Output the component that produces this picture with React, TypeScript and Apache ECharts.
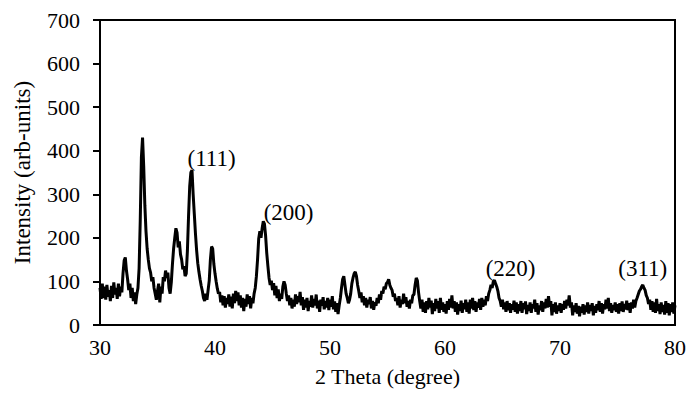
import React, { useEffect, useRef } from "react";
import * as echarts from "echarts";

// 2θ grid: start and step of the measured pattern
const thetaStart = 30;
const thetaStep = 0.1;

// Intensity values (arb-units), one per 0.1°
const int30to35 = [
  85, 60, 95, 62, 88, 58, 92, 65, 80, 55,
  90, 62, 98, 70, 85, 60, 95, 66, 88, 75,
  118, 148, 155, 125, 105, 80, 95, 62, 85, 55,
  75, 48, 70, 85, 130, 240, 385, 430, 365, 275,
  215, 175, 150, 130, 120, 100, 110, 85, 72, 58,
];
const int35to40 = [
  78, 95, 52, 88, 72, 110, 100, 125, 108, 120,
  85, 72, 98, 140, 175, 200, 222, 212, 178, 192,
  162, 150, 128, 135, 112, 118, 170, 250, 318, 350,
  355, 300, 255, 210, 172, 142, 122, 105, 90, 78,
  62, 55, 72, 58, 80, 102, 150, 180, 175, 140,
];
const int40to45 = [
  118, 100, 84, 72, 76, 52, 68, 45, 66, 40,
  62, 48, 70, 42, 65, 38, 72, 50, 78, 55,
  75, 45, 68, 40, 62, 32, 60, 42, 70, 48,
  66, 38, 62, 50, 72, 85, 112, 150, 198, 215,
  200, 222, 238, 232, 205, 165, 135, 108, 92, 102,
];
const int45to50 = [
  80, 96, 68, 90, 62, 82, 55, 72, 60, 88,
  100, 92, 72, 55, 68, 45, 62, 38, 58, 42,
  70, 48, 66, 52, 76, 45, 64, 35, 58, 40,
  62, 32, 55, 42, 68, 40, 60, 45, 70, 38,
  56, 30, 58, 44, 64, 36, 55, 40, 62, 34,
];
const int50to55 = [
  58, 42, 66, 36, 54, 30, 50, 25, 45, 62,
  85, 105, 112, 92, 72, 62, 50, 58, 72, 95,
  108, 118, 122, 112, 92, 78, 62, 75, 52, 66,
  45, 62, 40, 58, 48, 64, 38, 55, 35, 52,
  44, 62, 50, 70, 58, 78, 72, 88, 82, 95,
];
const int55to60 = [
  98, 105, 92, 85, 80, 65, 72, 55, 62, 45,
  66, 40, 58, 48, 72, 50, 64, 42, 55, 38,
  58, 50, 68, 70, 92, 108, 102, 75, 55, 38,
  58, 30, 52, 28, 55, 36, 62, 40, 56, 25,
  50, 32, 60, 38, 55, 28, 62, 35, 52, 30,
];
const int60to65 = [
  48, 26, 55, 35, 60, 40, 68, 38, 55, 30,
  52, 24, 48, 32, 56, 28, 50, 36, 58, 30,
  52, 26, 58, 38, 62, 34, 55, 30, 52, 40,
  60, 35, 62, 42, 58, 45, 66, 55, 72, 80,
  92, 85, 100, 103, 95, 88, 78, 62, 55, 42,
];
const int65to70 = [
  58, 36, 52, 30, 55, 34, 50, 28, 48, 35,
  56, 30, 52, 26, 48, 32, 55, 28, 50, 36,
  54, 25, 46, 32, 52, 28, 48, 38, 58, 30,
  50, 24, 45, 34, 55, 30, 52, 38, 60, 40,
  66, 42, 55, 22, 48, 30, 52, 26, 45, 32,
];
const int70to75 = [
  50, 28, 48, 35, 55, 38, 58, 45, 68, 40,
  52, 22, 45, 30, 50, 26, 44, 20, 42, 28,
  48, 24, 45, 30, 52, 26, 46, 32, 50, 22,
  44, 28, 48, 34, 55, 30, 50, 26, 48, 36,
  58, 38, 62, 32, 50, 28, 46, 34, 52, 30,
];
const int75to80 = [
  48, 26, 50, 32, 54, 30, 48, 36, 56, 34,
  50, 28, 52, 38, 58, 40, 55, 62, 70, 78,
  82, 88, 92, 85, 80, 68, 62, 48, 58, 35,
  55, 30, 52, 28, 60, 32, 48, 25, 52, 30,
  46, 24, 55, 28, 50, 22, 48, 30, 52, 26,
  45,
];

// Peak annotations (Miller indices) and where their text sits, in data units
const peakLabels = ["(111)", "(200)", "(220)", "(311)"];
const peakLabelTheta = [39.7, 46.4, 65.7, 77.2];
const peakLabelIntensity = [381, 258, 130, 130];

export default function App() {
  const ref = useRef<HTMLDivElement>(null);

  useEffect(() => {
    if (!ref.current) return;
    const chart = echarts.init(ref.current, null, { renderer: "svg" });
    const intensity = [
      ...int30to35, ...int35to40, ...int40to45, ...int45to50, ...int50to55,
      ...int55to60, ...int60to65, ...int65to70, ...int70to75, ...int75to80,
    ];
    const pattern = intensity.map((v, i) => [
      Number((thetaStart + i * thetaStep).toFixed(1)),
      v,
    ]);
    const labelData = peakLabels.map((t, i) => ({
      value: [peakLabelTheta[i], peakLabelIntensity[i]],
      name: t,
    }));
    const font = "'Liberation Serif', 'Times New Roman', serif";

    chart.setOption({
      animation: false,
      backgroundColor: "#ffffff",
      grid: {
        left: 100,
        right: 13,
        top: 20,
        bottom: 75,
        show: true,
        borderColor: "#000",
        borderWidth: 2,
        containLabel: false,
      },
      xAxis: {
        type: "value",
        min: 30,
        max: 80,
        interval: 10,
        name: "2 Theta (degree)",
        nameLocation: "middle",
        nameGap: 40,
        nameTextStyle: { fontFamily: font, fontSize: 22, color: "#000" },
        axisLine: { show: true, onZero: false, lineStyle: { color: "#000", width: 2 } },
        axisTick: { show: false },
        splitLine: { show: false },
        axisLabel: { margin: 11, fontFamily: font, fontSize: 22, color: "#000" },
      },
      yAxis: {
        type: "value",
        min: 0,
        max: 700,
        interval: 100,
        name: "Intensity (arb-units)",
        nameLocation: "middle",
        nameGap: 66,
        nameTextStyle: { fontFamily: font, fontSize: 23, color: "#000" },
        axisLine: { show: true, lineStyle: { color: "#000", width: 2 } },
        axisTick: { show: true, inside: false, length: 7, lineStyle: { color: "#000", width: 2 } },
        splitLine: { show: false },
        axisLabel: { margin: 20, fontFamily: font, fontSize: 22, color: "#000" },
      },
      series: [
        {
          type: "line",
          data: pattern,
          showSymbol: false,
          symbol: "none",
          lineStyle: { color: "#000", width: 3 },
          z: 3,
        },
        {
          type: "scatter",
          data: labelData,
          symbolSize: 0,
          silent: true,
          itemStyle: { color: "#000", opacity: 1 },
          label: {
            show: true,
            position: "inside",
            formatter: (p: any) => p.name,
            fontFamily: font,
            fontSize: 23,
            color: "#000",
            opacity: 1,
            textBorderWidth: 0,
            textBorderColor: "transparent",
          },
          z: 4,
        },
      ],
    });
    return () => chart.dispose();
  }, []);

  return (
    <div
      ref={ref}
      style={{ position: "absolute", left: 0, top: 0, width: 689, height: 400 }}
    />
  );
}
